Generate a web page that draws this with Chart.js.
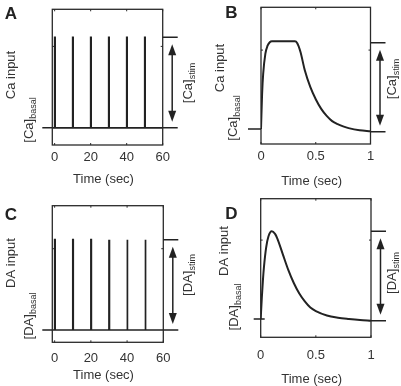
<!DOCTYPE html>
<html>
<head>
<meta charset="utf-8">
<script src="https://cdn.jsdelivr.net/npm/chart.js@4.4.1/dist/chart.umd.min.js"></script>
<style>
  html, body { margin: 0; padding: 0; background: #fff; }
  #figure { position: relative; width: 401px; height: 386px; overflow: hidden; }
  #figure canvas { position: absolute; }
</style>
</head>
<body>
<div id="figure">
  <canvas id="panelA" width="200" height="193" style="left:0;top:0"></canvas>
  <canvas id="panelB" width="201" height="193" style="left:200px;top:0"></canvas>
  <canvas id="panelC" width="200" height="193" style="left:0;top:193px"></canvas>
  <canvas id="panelD" width="201" height="193" style="left:200px;top:193px"></canvas>
</div>
<script>
// tick labels
const trainTicks = [0, 20, 40, 60];
const pulseTicks = [0, 0.5, 1];

// A: Ca spike train (sec, relative level)
const caTrainTime  = [-1.3, 0, 0.02, 0.25, 0.27, 10, 10.02, 10.25, 10.27, 20, 20.02, 20.25, 20.27,
                      30, 30.02, 30.25, 30.27, 40, 40.02, 40.25, 40.27, 50, 50.02, 50.25, 50.27, 60];
const caTrainLevel = [0, 0, 1, 1, 0, 0, 1, 1, 0, 0, 1, 1, 0,
                      0, 1, 1, 0, 0, 1, 1, 0, 0, 1, 1, 0, 0];

// B: single Ca pulse
const caPulseTime  = [0, 0.01, 0.02, 0.04, 0.06, 0.08, 0.1, 0.31, 0.33, 0.36, 0.4, 0.45, 0.5,
                      0.55, 0.6, 0.65, 0.7, 0.75, 0.8, 0.9, 1.0];
const caPulseLevel = [0, 0.4, 0.63, 0.86, 0.95, 0.99, 1, 1, 0.98, 0.88, 0.67, 0.48, 0.34,
                      0.23, 0.15, 0.09, 0.055, 0.03, 0.01, -0.015, -0.025];

// C: DA spike train
const daTrainTime  = [-1.3, 0, 0.02, 0.25, 0.27, 10, 10.02, 10.25, 10.27, 20, 20.02, 20.25, 20.27,
                      30, 30.02, 30.25, 30.27, 40, 40.02, 40.25, 40.27, 50, 50.02, 50.25, 50.27, 60];
const daTrainLevel = [0, 0, 1, 1, 0, 0, 1, 1, 0, 0, 1, 1, 0,
                      0, 1, 1, 0, 0, 1, 1, 0, 0, 1, 1, 0, 0];

// D: single DA pulse
const daPulseTime  = [0, 0.01, 0.02, 0.03, 0.05, 0.07, 0.1, 0.13, 0.15, 0.2, 0.25, 0.3, 0.35,
                      0.4, 0.45, 0.5, 0.6, 0.7, 0.8, 0.9, 1.0];
const daPulseLevel = [0, 0.24, 0.44, 0.6, 0.82, 0.94, 1, 0.97, 0.92, 0.74, 0.56, 0.41, 0.29,
                      0.2, 0.13, 0.09, 0.04, 0.015, 0, -0.012, -0.02];

const FONT = '"Liberation Sans", Arial, Helvetica, sans-serif';
const INK = '#222';
const TEXT = '#333';

function toPoints(xs, ys) {
  return xs.map((x, i) => ({ x: x, y: ys[i] }));
}

// text with a subscript, optionally rotated to read bottom-to-top
function drawSubText(ctx, x, y, base, sub, rotate) {
  ctx.save();
  ctx.translate(x, y);
  if (rotate) ctx.rotate(-Math.PI / 2);
  ctx.fillStyle = TEXT;
  ctx.textAlign = 'left';
  ctx.textBaseline = 'alphabetic';
  ctx.font = '13px ' + FONT;
  const wb = ctx.measureText(base).width;
  ctx.font = '9px ' + FONT;
  const ws = sub ? ctx.measureText(sub).width : 0;
  const start = -(wb + ws) / 2;
  ctx.font = '13px ' + FONT;
  ctx.fillText(base, start, 4.5);
  if (sub) {
    ctx.font = '9px ' + FONT;
    ctx.fillText(sub, start + wb, 7.5);
  }
  ctx.restore();
}

function arrowHead(ctx, x, tipY, dir) {
  // dir = 1 points up, -1 points down
  ctx.beginPath();
  ctx.moveTo(x, tipY);
  ctx.lineTo(x - 4, tipY + dir * 11);
  ctx.lineTo(x + 4, tipY + dir * 11);
  ctx.closePath();
  ctx.fill();
}

// box, inside ticks, basal/stim markers, arrow and side labels
const figureMarks = {
  id: 'figureMarks',
  afterDraw(chart, args, opts) {
    const ctx = chart.ctx;
    const a = chart.chartArea;
    const xs = chart.scales.x;
    const ys = chart.scales.y;
    ctx.save();

    ctx.strokeStyle = '#2a2a2a';
    ctx.lineWidth = 1.3;
    ctx.strokeRect(a.left, a.top, a.right - a.left, a.bottom - a.top);

    ctx.lineWidth = 1;
    ctx.beginPath();
    opts.xTicks.forEach(v => {
      const px = xs.getPixelForValue(v);
      ctx.moveTo(px, a.bottom); ctx.lineTo(px, a.bottom - 2);
      ctx.moveTo(px, a.top); ctx.lineTo(px, a.top + 2);
    });
    opts.yTicks.forEach(v => {
      const py = ys.getPixelForValue(v);
      ctx.moveTo(a.left, py); ctx.lineTo(a.left + 2, py);
      ctx.moveTo(a.right, py); ctx.lineTo(a.right - 2, py);
    });
    ctx.stroke();

    const yBasal = ys.getPixelForValue(opts.basal);
    const yEnd = ys.getPixelForValue(opts.end);
    const yStim = ys.getPixelForValue(opts.stim);
    ctx.strokeStyle = INK;
    ctx.fillStyle = INK;
    ctx.lineWidth = 1.5;
    ctx.beginPath();
    ctx.moveTo(a.left - opts.leftReach, yBasal); ctx.lineTo(a.left + opts.leftInset, yBasal);
    ctx.moveTo(a.right, yEnd); ctx.lineTo(a.right + 15, yEnd);
    ctx.moveTo(a.right, yStim); ctx.lineTo(a.right + 15, yStim);
    ctx.stroke();

    const ax = a.right + 9.5;
    const top = yStim + 7;
    const bot = yEnd - 6;
    ctx.beginPath();
    ctx.moveTo(ax, top + 10); ctx.lineTo(ax, bot - 10);
    ctx.stroke();
    arrowHead(ctx, ax, top, 1);
    arrowHead(ctx, ax, bot, -1);

    ctx.fillStyle = INK;
    ctx.font = 'bold 17px ' + FONT;
    ctx.textAlign = 'center';
    ctx.textBaseline = 'middle';
    ctx.fillText(opts.letter, opts.letterPos[0], opts.letterPos[1]);

    drawSubText(ctx, opts.yTitlePos[0], opts.yTitlePos[1], opts.yTitle, '', true);
    drawSubText(ctx, opts.basalPos[0], opts.basalPos[1], opts.species, 'basal', true);
    drawSubText(ctx, opts.stimPos[0], opts.stimPos[1], opts.species, 'stim', true);
    drawSubText(ctx, opts.xTitlePos[0], opts.xTitlePos[1], 'Time (sec)', '', false);

    ctx.restore();
  }
};

function makePanel(id, p) {
  const canvas = document.getElementById(id);
  const W = canvas.width, H = canvas.height;
  return new Chart(canvas, {
    type: 'line',
    data: {
      datasets: [{
        data: toPoints(p.time, p.level),
        borderColor: INK,
        borderWidth: p.smooth ? 2 : 1.7,
        pointRadius: 0,
        fill: false,
        tension: 0,
        cubicInterpolationMode: p.smooth ? 'monotone' : 'default'
      }]
    },
    options: {
      responsive: false,
      animation: false,
      devicePixelRatio: 1,
      layout: { padding: { top: p.area.top, right: W - p.area.right, bottom: 0, left: 0 } },
      plugins: {
        legend: { display: false },
        tooltip: { enabled: false },
        figureMarks: p.marks
      },
      scales: {
        x: {
          type: 'linear',
          min: p.xMin, max: p.xMax,
          afterBuildTicks: s => { s.ticks = p.ticks.map(v => ({ value: v })); },
          ticks: {
            autoSkip: false, maxRotation: 0, padding: p.tickPad,
            color: TEXT, font: { family: FONT, size: 13 },
            callback: v => String(v)
          },
          grid: { display: false, drawTicks: false },
          border: { display: false },
          afterFit: s => { s.height = H - p.area.bottom; }
        },
        y: {
          min: p.yMin, max: p.yMax,
          ticks: { display: false },
          grid: { display: false, drawTicks: false },
          border: { display: false },
          afterFit: s => { s.width = p.area.left; }
        }
      }
    },
    plugins: [figureMarks]
  });
}

makePanel('panelA', {
  time: caTrainTime, level: caTrainLevel, smooth: false,
  ticks: trainTicks, xMin: -1.3, xMax: 60, yMin: -0.19, yMax: 1.31,
  area: { left: 52.3, right: 162.7, top: 9.3, bottom: 145 }, tickPad: 5,
  marks: {
    letter: 'A', letterPos: [11, 14], species: '[Ca]', yTitle: 'Ca input',
    yTitlePos: [10, 75], basalPos: [28, 120], stimPos: [187, 83], xTitlePos: [103.5, 178],
    xTicks: trainTicks, yTicks: [0.9], basal: 0, end: 0, stim: 1, leftReach: 10, leftInset: 0
  }
});

makePanel('panelB', {
  time: caPulseTime, level: caPulseLevel, smooth: true,
  ticks: pulseTicks, xMin: 0, xMax: 1, yMin: -0.171, yMax: 1.388,
  area: { left: 61, right: 170.5, top: 7.3, bottom: 144 }, tickPad: 5,
  marks: {
    letter: 'B', letterPos: [31.5, 13.5], species: '[Ca]', yTitle: 'Ca input',
    yTitlePos: [19, 68], basalPos: [32, 118], stimPos: [191, 79], xTitlePos: [111.7, 180],
    xTicks: pulseTicks, yTicks: [0.9], basal: 0, end: -0.03, stim: 0.985, leftReach: 13, leftInset: 0
  }
});

makePanel('panelC', {
  time: daTrainTime, level: daTrainLevel, smooth: false,
  ticks: trainTicks, xMin: -1.3, xMax: 60, yMin: -0.136, yMax: 1.376,
  area: { left: 52.3, right: 163.3, top: 12.7, bottom: 149.3 }, tickPad: 8,
  marks: {
    letter: 'C', letterPos: [11, 22.5], species: '[DA]', yTitle: 'DA input',
    yTitlePos: [10, 70], basalPos: [28, 123], stimPos: [187.5, 82], xTitlePos: [103.5, 181],
    xTicks: trainTicks, yTicks: [0.9], basal: 0, end: 0, stim: 1, leftReach: 10, leftInset: 0
  }
});

makePanel('panelD', {
  time: daPulseTime, level: daPulseLevel, smooth: true,
  ticks: pulseTicks, xMin: 0, xMax: 1, yMin: -0.209, yMax: 1.372,
  area: { left: 60.7, right: 171, top: 5.7, bottom: 144.3 }, tickPad: 10,
  marks: {
    letter: 'D', letterPos: [31.5, 21], species: '[DA]', yTitle: 'DA input',
    yTitlePos: [23, 58], basalPos: [33, 114], stimPos: [191, 80], xTitlePos: [111.7, 185],
    xTicks: pulseTicks, yTicks: [0.9], basal: 0, end: -0.02, stim: 1, leftReach: 7, leftInset: 4
  }
});
</script>
</body>
</html>
